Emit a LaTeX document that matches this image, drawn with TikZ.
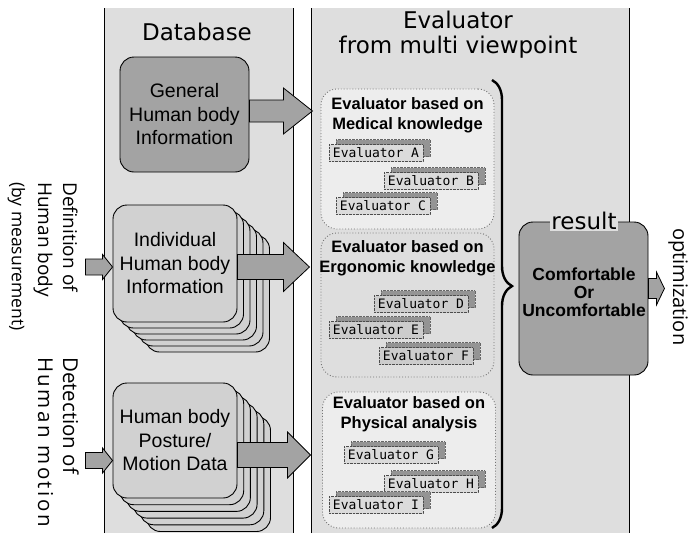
\documentclass[tikz,border=0pt]{standalone}
\usepackage{fontspec}
\setmainfont{Liberation Sans}
\newfontfamily\headfont{DejaVu Sans}
\newfontfamily\sidefont{Open Sans}
\newfontfamily\sidewide[LetterSpace=12]{Open Sans}
\newfontfamily\evfont{DejaVu Sans Mono}
\usetikzlibrary{positioning,calc,shadows,decorations.pathreplacing}
\definecolor{panelg}{gray}{0.87}
\definecolor{darkg}{gray}{0.64}
\definecolor{lightg}{gray}{0.82}
\definecolor{grpg}{gray}{0.93}
\definecolor{barg}{gray}{0.86}
\definecolor{sideg}{gray}{0.58}
% block arrow: start, length, shaft half, head half, head length
\newcommand{\fatarrow}[5]{\draw[fatarr] (#1) ++(0,-#3) -- ++({#2-#5},0) -- ++(0,{#3-#4}) -- ++(#5,#4) -- ++(-#5,#4) -- ++(0,{#3-#4}) -- ++({#5-#2},0) -- cycle;}

\begin{document}
\begin{tikzpicture}[x=1pt, y=-1pt,
  dbbox/.style={draw, line width=0.9pt, rounded corners=14pt, minimum width=124pt, minimum height=117pt, align=center, font=\fontsize{19.5}{23.5}\selectfont},
  resbox/.style={draw, line width=0.9pt, rounded corners=14pt, fill=darkg, minimum width=129pt, minimum height=153pt},
  grp/.style={draw=black!55, dotted, line width=0.9pt, fill=grpg, rounded corners=16pt, minimum width=173pt},
  grptitle/.style={align=center, font=\bfseries\fontsize{16.5}{20}\selectfont, inner sep=1pt},
  evbar/.style={draw=black!70, densely dotted, fill=barg, minimum width=94pt, minimum height=17pt, inner sep=1pt, font=\evfont\fontsize{13}{13}\selectfont,
    copy shadow={shadow xshift=7pt, shadow yshift=5pt, fill=sideg, draw=black!60, densely dotted}},
  head/.style={font=\headfont\fontsize{23}{25}\selectfont, align=center},
  side/.style={font=\sidefont\fontsize{19}{19}\selectfont, rotate=-90, anchor=base west, inner sep=0pt},
  fatarr/.style={draw, line width=0.8pt, fill=darkg, line join=miter}]
\useasboundingbox (0,0) rectangle (691,533);

% panels
\fill[panelg] (104,8) rectangle (293,533);
\fill[panelg] (311,8) rectangle (629,533);
\draw[line width=0.8pt] (104,533) -- (104,8) (293,8) -- (293,533);
\draw[line width=0.8pt] (311,533) -- (311,8) (629,8) -- (629,533);
\node[head, anchor=base] (dbt) at (197,40) {Database};
\node[head] (evt) at (458,34.5) {Evaluator\\from multi viewpoint};

% database boxes
\node[dbbox, fill=darkg, minimum width=129pt, minimum height=115pt] (gen) at (184.5,114.5) {General\\Human body\\Information};
\coordinate (indc) at (175,263.5);
\foreach \k in {5,...,1}
  \node[dbbox, fill=lightg] at ($(indc)+(\k*6.5,\k*6)$) {};
\node[dbbox, fill=lightg] (ind) at (indc) {Individual\\Human body\\Information};
\coordinate (motc) at (175,440.5);
\foreach \k in {5,...,1}
  \node[dbbox, fill=lightg, minimum height=115pt] at ($(motc)+(\k*6.7,\k*6.7)$) {};
\node[dbbox, fill=lightg, minimum height=115pt] (mot) at (motc) {Human body\\Posture/\\Motion Data};

% inputs on the left
\node[side] (def1) at (63,182) {Definition of};
\node[side] (def2) at (38,182) {Human body};
\node[side, font=\sidefont\fontsize{17.5}{17.5}\selectfont] (def3) at (12,182) {(by measurement)};
\node[side, font=\sidefont\fontsize{20.5}{20.5}\selectfont] (det1) at (63,357) {Detection of};
\node[side, font=\sidewide\fontsize{20.5}{20.5}\selectfont] (det2) at (38,357) {Human motion};
\fatarrow{$(ind.west)+(-27,3.5)$}{27}{8}{12.5}{10}
\fatarrow{$(mot.west)+(-27,20)$}{27}{8}{12.5}{10}

% arrows into the evaluator
\fatarrow{$(gen.east)+(0,-3.5)$}{63}{11}{23}{29}
\fatarrow{$(ind.east)+(0,3.5)$}{72}{12.5}{24.5}{26}
\fatarrow{$(mot.east)+(0,14.5)$}{73}{12.5}{23}{23}

% evaluator groups
\node[grp, minimum height=140pt] (grp1) at (407.5,159) {};
\node[grp, fill=panelg, minimum height=144pt] (grp2) at (407.5,305) {};
\node[grp, minimum height=136pt] (grp3) at (409,460) {};
\node[grptitle, below=8pt of grp1.north] (t1) {Evaluator based on\\Medical knowledge};
\node[grptitle, below=7pt of grp2.north] (t2) {Evaluator based on\\Ergonomic knowledge};
\node[grptitle, below=4pt of grp3.north] (t3) {Evaluator based on\\Physical analysis};

\node[evbar] (evA) at (376,153) {Evaluator A};
\node[evbar] (evB) at (431,181) {Evaluator B};
\node[evbar] (evC) at (383,206) {Evaluator C};
\node[evbar, fill=gray!40] (evD) at (421,304) {Evaluator D};
\node[evbar, fill=gray!40] (evE) at (376,330) {Evaluator E};
\node[evbar, fill=gray!40] (evF) at (426,356) {Evaluator F};
\node[evbar] (evG) at (391,455) {Evaluator G};
\node[evbar] (evH) at (431,484) {Evaluator H};
\node[evbar] (evI) at (376,505) {Evaluator I};

% brace and result
\draw[line width=2.4pt, decorate, decoration={brace, amplitude=20pt, aspect=0.46}] (492,80) -- (492,528);
\node[resbox] (res) at (583.5,298.5) {};
\node[align=center, font=\bfseries\fontsize{17.5}{18}\selectfont] (comf) at (584,292) {Comfortable\\Or\\Uncomfortable};
\node[font=\headfont\fontsize{23}{23}\selectfont, fill=panelg, inner sep=1.5pt, anchor=base] (resl) at (584,229) {result};
\fatarrow{$(res.east)+(0,-10)$}{16}{10}{16.5}{8}
\node[side, font=\sidefont\fontsize{20}{20}\selectfont] (opt) at (673,228) {optimization};
\end{tikzpicture}
\end{document}
